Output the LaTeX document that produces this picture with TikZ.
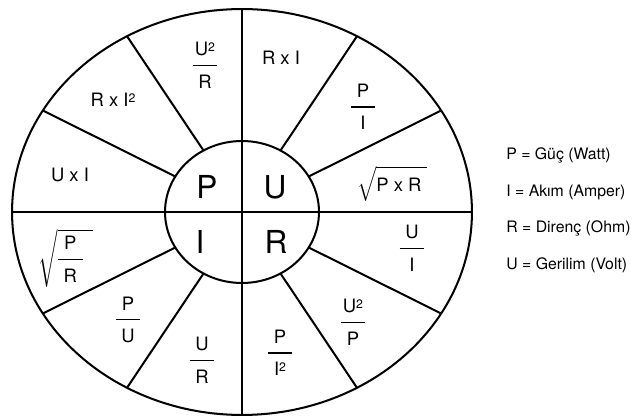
\documentclass[tikz,border=0pt]{standalone}
\usepackage{amsmath}
\usepackage{fontspec}
\setmainfont{TeX Gyre Heros}
\usetikzlibrary{calc}
\newcommand{\sqd}{{\fontsize{7}{7}\selectfont\raisebox{2.4pt}{2}}}
\newcommand{\fr}[2]{\vbox{\offinterlineskip\hbox to 14pt{\hss#1\hss}\kern5pt\hrule height 0.7pt\kern5pt\hbox to 14pt{\hss#2\hss}}}
\tikzset{
  wheel/.style={line width=1.15pt, black},
  lbl/.style={inner sep=0pt, font=\fontsize{10.5}{12}\selectfont},
  big/.style={inner sep=0pt, font=\fontsize{18}{20}\selectfont},
  leg/.style={inner sep=0pt, anchor=west, font=\fontsize{9}{11}\selectfont}
}
\begin{document}
\begin{tikzpicture}[x=0.02cm, y=0.02cm]
\useasboundingbox (0,0) rectangle (632,416);
\fill[white] (0,0) rectangle (632,416);
\coordinate (C) at (242,204);
\draw[wheel] (C) ellipse [x radius=4.6cm, y radius=4.06cm];
\draw[wheel] (C) ellipse [x radius=1.54cm, y radius=1.42cm];
\coordinate (L) at ($(C)+(-4.6cm,0)$);
\coordinate (R) at ($(C)+(4.6cm,0)$);
\coordinate (T) at ($(C)+(0,4.06cm)$);
\coordinate (B) at ($(C)+(0,-4.06cm)$);
\draw[wheel] (L) -- (R);
\draw[wheel] (T) -- (B);
\foreach \a in {30,60,120,150,210,240,300,330} {
  \coordinate (in\a) at ($(C)+(\a:1.54cm and 1.42cm)$);
  \coordinate (out\a) at ($(C)+(\a:4.6cm and 4.06cm)$);
  \draw[wheel] (in\a) -- (out\a);
}
% centre letters
\node[big] (bP) at (207,229) {P};
\node[big] (bU) at (275,229) {U};
\node[big] (bI) at (200,174) {I};
\node[big] (bR) at (276,174) {R};
% sector labels
\node[lbl] (s1) at (205,351) {\fr{U\sqd}{R}};
\node[lbl] (s2) at (281,358) {R x I};
\node[lbl] (s3) at (363,309) {\fr{P}{I}};
\node[lbl] (s4) at (392,232) {$\sqrt{\rule[-4pt]{0pt}{15pt}\text{P x R}\kern3pt}$};
\node[lbl] (s5) at (412,168) {\fr{U}{I}};
\node[lbl] (s6) at (353,94) {\fr{U\sqd}{P}};
\node[lbl] (s7) at (280,63) {\fr{P}{I\sqd}};
\node[lbl] (s8) at (202,56) {\fr{U}{R}};
\node[lbl] (s9) at (128,96) {\fr{P}{U}};
\node[lbl] (s10) at (66,158) {$\sqrt{\vcenter{\hbox{\fr{P}{R}}}\kern6pt}$};
\node[lbl] (s11) at (70,241) {U x I};
\node[lbl] (s12) at (113,316) {R x I\sqd};
% legend
\node[leg] (g1) at (506,261) {P = Güç (Watt)};
\node[leg] (g2) at (506,224) {I = Akım (Amper)};
\node[leg] (g3) at (506,188) {R = Direnç (Ohm)};
\node[leg] (g4) at (506,151) {U = Gerilim (Volt)};
\end{tikzpicture}
\end{document}
